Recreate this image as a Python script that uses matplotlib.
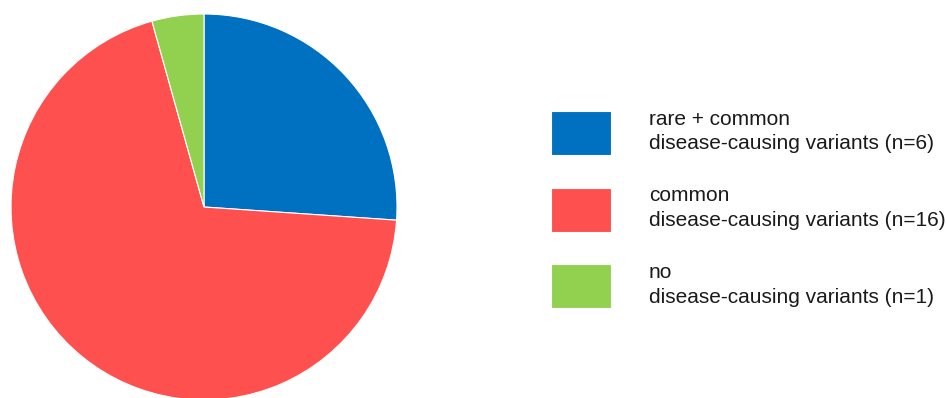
import matplotlib
matplotlib.use("Agg")
import matplotlib.pyplot as plt

labels = ["rare + common\ndisease-causing variants (n=6)",
          "common\ndisease-causing variants (n=16)",
          "no\ndisease-causing variants (n=1)"]
values = [6, 16, 1]
colors = ["#0070C0", "#FF5050", "#92D050"]

plt.rcParams['font.family'] = ['Liberation Sans', 'DejaVu Sans']

W, H = 946, 398
fig = plt.figure(figsize=(W / 100, H / 100), dpi=100)
cx, cy, r = 204, 398 - 207, 193
ax = fig.add_axes([(cx - r) / W, (cy - r) / H, 2 * r / W, 2 * r / H])
wedges, _ = ax.pie(values, colors=colors, startangle=90, counterclock=False,
                   wedgeprops=dict(edgecolor="white", linewidth=0.8))
ax.set_xlim(-1, 1)
ax.set_ylim(-1, 1)

fs = 15
px = fs * 100 / 72
hh = (44 / px - 0.245) / 0.65
leg = fig.legend(wedges, labels, loc="center left",
                 bbox_to_anchor=(551 / W, 189 / H), frameon=False,
                 fontsize=fs, handlelength=60 / px, handleheight=hh,
                 handletextpad=38 / px, labelspacing=1.52,
                 borderpad=0, borderaxespad=0, labelcolor="#1a1a1a")
for t in leg.get_texts():
    t.set_linespacing(1.38)

fig.savefig("out.png", dpi=100)
